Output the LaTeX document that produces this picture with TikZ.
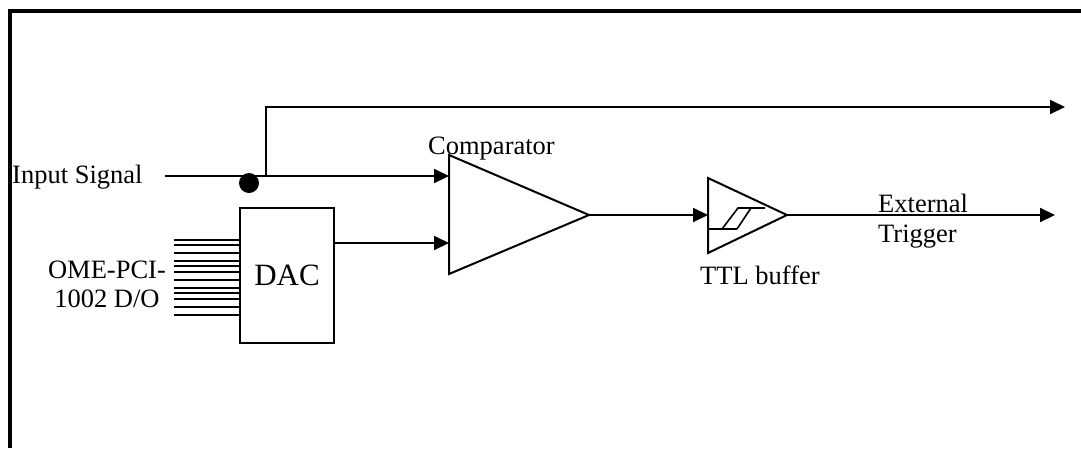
\documentclass[tikz,border=0pt]{standalone}
\usepackage{fontspec}
\setmainfont{Liberation Serif}
\usetikzlibrary{arrows.meta}
\begin{document}
\begin{tikzpicture}[x=1pt,y=-1pt,
  wire/.style={line width=2pt},
  arr/.style={wire,-{Triangle[length=15pt,width=14pt]}},
  lbl/.style={inner sep=0pt,font=\fontsize{26.5}{29}\selectfont},
  shp/.style={line width=2pt,line join=miter}]
\useasboundingbox (0,0) rectangle (1081,448);
% frame
\draw[line width=4pt] (9.5,448) -- (9.5,10.5) -- (1081,10.5);
% coordinates
\coordinate (inS) at (165,176);
\coordinate (br) at (266,176);
\coordinate (brtop) at (266,107);
\coordinate (topend) at (1065,107);
\coordinate (cin1) at (449,176);
\coordinate (cin2) at (449,243);
\coordinate (ctop) at (449,155);
\coordinate (cbot) at (449,274);
\coordinate (cout) at (589,215);
\coordinate (bin) at (708,215);
\coordinate (btop) at (708,178);
\coordinate (bbot) at (708,253);
\coordinate (bout) at (787,215);
\coordinate (trig) at (1055,215);
% texts
\node[lbl,anchor=west] (tin) at (12,177) {Input Signal};
\node[lbl,anchor=south west] (tcomp) at (428,160) {Comparator};
\node[lbl,align=center] (tome) at (107,284) {OME-PCI-\\1002 D/O};
\node[lbl,anchor=west] (tttl) at (700,275) {TTL buffer};
\node[lbl,anchor=west] (text) at (878,203) {External};
\node[lbl,anchor=west] (ttrig) at (878,237) {Trigger};
% DAC
\node[draw,line width=1.6pt,minimum width=94pt,minimum height=135pt,inner sep=0pt,
  font=\fontsize{31}{34}\selectfont] (dac) at (287,275.5) {DAC};
% bus lines
\foreach \yy in {240,245,253.3,261,266,272.3,280,287.7,292.7,299,307.3,315}
  \draw[line width=2pt] (174,\yy) -- (dac.west |- 0,\yy);
% input line and branch
\draw[arr] (inS) -- (cin1);
\draw[arr] (br) -- (brtop) -- (topend);
\fill (249,183) circle (10pt);
% DAC output
\draw[arr] (dac.east |- cin2) -- (cin2);
% comparator
\draw[shp] (ctop) -- (cout) -- (cbot) -- cycle;
% to buffer
\draw[arr] (cout) -- (bin);
% buffer
\draw[shp] (btop) -- (bout) -- (bbot) -- cycle;
\draw[line width=1.6pt] (708,229) -- (737,229);
\draw[line width=1.6pt] (722,229) -- (738,208) -- (765,208);
\draw[line width=1.6pt] (737,229) -- (751,208);
% output
\draw[arr] (bout) -- (trig);
\end{tikzpicture}
\end{document}
